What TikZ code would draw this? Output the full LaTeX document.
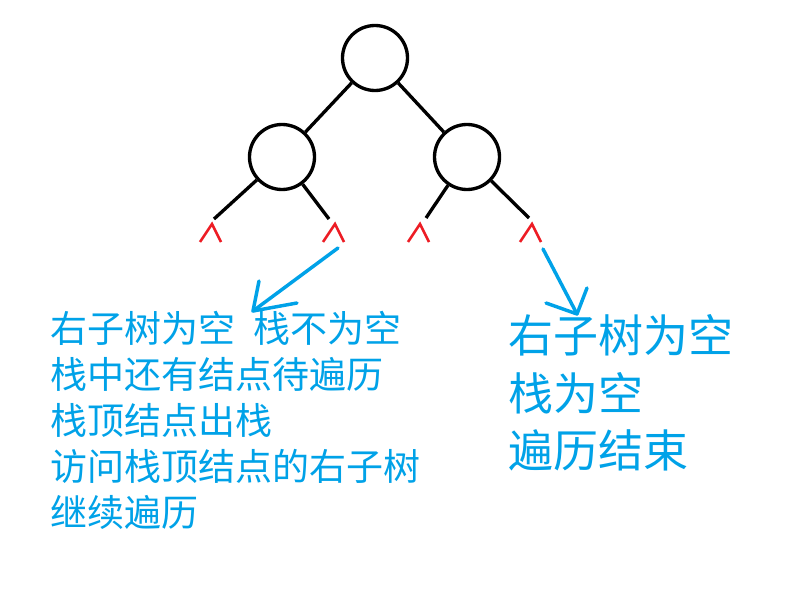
\documentclass[tikz,border=0pt]{standalone}
\usepackage{fontspec}
\newfontfamily\cjk{Noto Sans CJK SC}
\definecolor{pblue}{HTML}{00A2E8}
\definecolor{pred}{HTML}{ED1C24}
\begin{document}
\begin{tikzpicture}[x=0.75pt,y=-0.75pt,
  treenode/.style={circle,draw=black,line width=2.5pt,minimum size=48.75pt,inner sep=0pt},
  edge/.style={draw=black,line width=2.5pt},
  caret/.style={draw=pred,line width=1.9pt,line join=miter},
  barrow/.style={draw=pblue,line width=2.6pt,line cap=round,line join=round},
  ltxt/.style={anchor=base west,inner sep=0pt,text=pblue,font=\cjk\fontsize{27.75pt}{27.75pt}\selectfont},
  rtxt/.style={anchor=base west,inner sep=0pt,text=pblue,font=\cjk\fontsize{33.75pt}{33.75pt}\selectfont}]
\useasboundingbox (0,0) rectangle (785,602);
\fill[white] (0,0) rectangle (785,602);
% tree
\node[treenode] (root) at (375,58) {};
\node[treenode] (l) at (282,157) {};
\node[treenode] (r) at (467,157) {};
\coordinate (ll) at (214,219);
\coordinate (lr) at (329,219);
\coordinate (rl) at (426,218);
\coordinate (rr) at (529,218);
\draw[edge] (root) -- (l);
\draw[edge] (root) -- (r);
\draw[edge] (l) -- (ll);
\draw[edge] (l) -- (lr);
\draw[edge] (r) -- (rl);
\draw[edge] (r) -- (rr);
% null carets
\foreach \n/\x in {c1/212,c2/335,c3/420,c4/532}{
  \coordinate (\n) at (\x,224);
  \draw[caret] ([xshift=-9]\n) ++(0,18) -- (\n) -- ++(9,18);
}
% arrows
\coordinate (a1s) at (338,248);
\coordinate (a1e) at (253,311);
\coordinate (a2s) at (543,249);
\coordinate (a2e) at (577,314);
\draw[barrow] (a1s) -- (a1e);
\draw[barrow] (259,281) -- (a1e) -- (297,303);
\draw[barrow] (a2s) -- (a2e);
\draw[barrow] (546,303) -- (a2e) -- (587,288);
% left text
\node[ltxt] (t1) at (50,342) {右子树为空\hspace{0.5em}栈不为空};
\node[ltxt] (t2) at (50,388) {栈中还有结点待遍历};
\node[ltxt] (t3) at (50,434) {栈顶结点出栈};
\node[ltxt] (t4) at (50,480) {访问栈顶结点的右子树};
\node[ltxt] (t5) at (50,526) {继续遍历};
% right text
\node[rtxt] (s1) at (508,352) {右子树为空};
\node[rtxt] (s2) at (508,410) {栈为空};
\node[rtxt] (s3) at (508,467) {遍历结束};
\end{tikzpicture}
\end{document}
